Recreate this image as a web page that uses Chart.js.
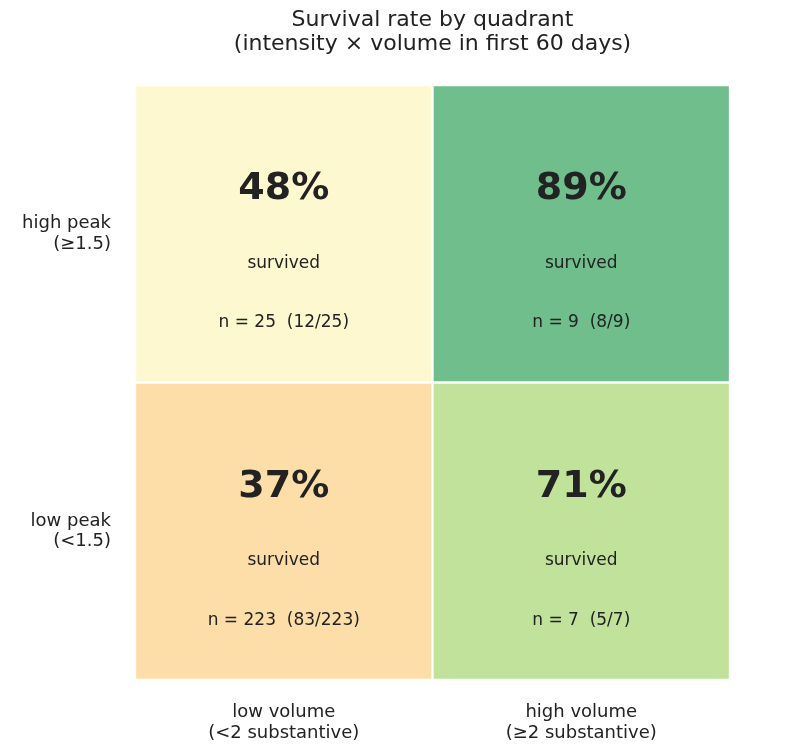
<!DOCTYPE html>
<html>
<head>
<meta charset="utf-8">
<script src="https://cdn.jsdelivr.net/npm/chart.js@4/dist/chart.umd.min.js"></script>
<style>
  html, body { margin: 0; padding: 0; background: #fff; }
</style>
</head>
<body>
<canvas id="myChart" width="786" height="748"></canvas>
<script>
// columns (x) and rows (y)
const volumeLabels = [["low volume", "(<2 substantive)"], ["high volume", "(≥2 substantive)"]];
const peakLabels = [["low peak", "(<1.5)"], ["high peak", "(≥1.5)"]];

// survival rate (%) per cell, low volume / high volume
const lowPeakRate = [37, 71];
const highPeakRate = [48, 89];
const lowPeakSurvived = [83, 5];
const lowPeakTotal = [223, 7];
const highPeakSurvived = [12, 8];
const highPeakTotal = [25, 9];

const lowPeakColors = ['#fddea9', '#c1e29b'];
const highPeakColors = ['#fef8d0', '#6fbe8c'];

const rows = [
  { rate: lowPeakRate, surv: lowPeakSurvived, tot: lowPeakTotal },
  { rate: highPeakRate, surv: highPeakSurvived, tot: highPeakTotal }
];

const font = "'DejaVu Sans', sans-serif";

const cellText = {
  id: 'cellText',
  afterDatasetsDraw(chart) {
    const ctx = chart.ctx;
    ctx.save();
    ctx.fillStyle = '#222';
    ctx.textAlign = 'center';
    ctx.textBaseline = 'middle';
    chart.data.datasets.forEach((ds, di) => {
      const meta = chart.getDatasetMeta(di);
      meta.data.forEach((el, i) => {
        const top = Math.min(el.y, el.base);
        const h = Math.abs(el.base - el.y);
        const r = rows[di];
        ctx.font = "bold 38px " + font;
        ctx.fillText(r.rate[i] + '%', el.x, top + h * 0.35);
        ctx.font = "17px " + font;
        ctx.fillText('survived', el.x, top + h * 0.6);
        ctx.fillText('n = ' + r.tot[i] + '  (' + r.surv[i] + '/' + r.tot[i] + ')', el.x, top + h * 0.8);
      });
    });
    ctx.restore();
  }
};

new Chart(document.getElementById('myChart'), {
  type: 'bar',
  data: {
    labels: volumeLabels,
    datasets: [{
      label: 'low peak',
      data: [1, 1],
      backgroundColor: lowPeakColors,
      borderColor: '#ffffff',
      borderWidth: 1.5,
      borderSkipped: false,
      barPercentage: 1,
      categoryPercentage: 1
    }, {
      label: 'high peak',
      data: [1, 1],
      backgroundColor: highPeakColors,
      borderColor: '#ffffff',
      borderWidth: 1.5,
      borderSkipped: false,
      barPercentage: 1,
      categoryPercentage: 1
    }]
  },
  options: {
    responsive: false,
    animation: false,
    devicePixelRatio: 1,
    layout: { padding: { left: 0, right: 56, top: 0, bottom: 0 } },
    plugins: {
      legend: { display: false },
      tooltip: { enabled: false },
      title: {
        display: true,
        fullSize: false,
        text: ['Survival rate by quadrant', '(intensity × volume in first 60 days)'],
        color: '#222',
        font: { family: font, size: 22, weight: 'normal', lineHeight: 1.1 },
        padding: { top: 8, bottom: 28.6 }
      }
    },
    scales: {
      x: {
        stacked: true,
        grid: { display: false },
        border: { display: false },
        ticks: {
          color: '#222',
          padding: 14,
          font: { family: font, size: 18, lineHeight: 1.17 }
        },
        afterFit(axis) { axis.height = 68; }
      },
      y: {
        stacked: true,
        min: 0,
        max: 2,
        grid: { display: false },
        border: { display: false },
        afterBuildTicks(axis) { axis.ticks = [{ value: 0.5 }, { value: 1.5 }]; },
        ticks: {
          color: '#222',
          padding: 16,
          font: { family: font, size: 18, lineHeight: 1.15 },
          callback: (value) => value < 1 ? peakLabels[0] : peakLabels[1]
        },
        afterFit(axis) { axis.width = 135; }
      }
    }
  },
  plugins: [cellText]
});
</script>
</body>
</html>
